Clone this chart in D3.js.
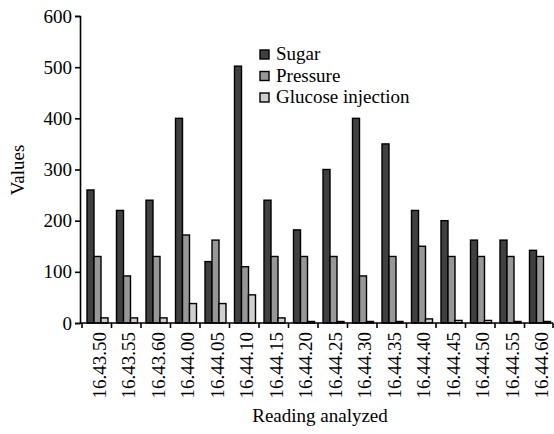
<!DOCTYPE html>
<html>
<head>
<meta charset="utf-8">
<script src="https://cdn.jsdelivr.net/npm/d3@7"></script>
<style>
  body { margin: 0; background: #fff; }
</style>
</head>
<body>
<script>
// data
const readings = ["16.43.50", "16.43.55", "16.43.60", "16.44.00", "16.44.05", "16.44.10",
    "16.44.15", "16.44.20", "16.44.25", "16.44.30", "16.44.35", "16.44.40",
    "16.44.45", "16.44.50", "16.44.55", "16.44.60"];
const sugar = [260, 220, 240, 400, 120, 502, 240, 182, 300, 400, 350, 220, 200, 162, 162, 142];
const pressure = [130, 92, 130, 172, 162, 110, 130, 130, 130, 92, 130, 150, 130, 130, 130, 130];
const glucose = [10, 10, 10, 38, 38, 55, 10, 3, 3, 3, 3, 8, 5, 5, 3, 3];
const seriesNames = ["Sugar", "Pressure", "Glucose injection"];
const yTicks = [0, 100, 200, 300, 400, 500, 600];

const width = 554;
const height = 434;
const font = "Liberation Serif";
const fs = 19;

const svg = d3.select("body")
    .append("svg")
    .attr("width", width)
    .attr("height", height)
    .attr("font-family", font);

const series = [sugar, pressure, glucose];
const colors = ["#404040", "#979797", "#cfcfcf"];

// scales: one band per reading, three bars grouped inside
const x = d3.scaleBand()
    .domain(readings)
    .range([82, 554]);

const x1 = d3.scaleBand()
    .domain(d3.range(3))
    .range([5, 26]);

const y = d3.scaleLinear()
    .domain([0, 600])
    .range([323, 16]);

// bars
series.forEach((vals, s) => {
    svg.append("g")
        .selectAll("rect")
        .data(vals)
        .enter()
        .append("rect")
        .attr("x", (d, i) => x(readings[i]) + x1(s))
        .attr("y", d => y(d))
        .attr("width", x1.bandwidth())
        .attr("height", d => y(0) - y(d))
        .attr("fill", colors[s])
        .attr("stroke", "#000")
        .attr("stroke-width", 1.4);
});

// Y axis
const yAxis = svg.append("g")
    .attr("transform", "translate(80,0)")
    .call(d3.axisLeft(y).tickValues(yTicks).tickSize(5).tickPadding(3));
yAxis.attr("font-family", font);
yAxis.select(".domain").attr("stroke-width", 1.6);
yAxis.selectAll(".tick line").attr("stroke-width", 1.6);
yAxis.selectAll("text")
    .attr("font-family", font)
    .attr("font-size", fs)
    .attr("fill", "#000");

// X axis, ticks sit between the reading groups
const xAxisG = svg.append("g")
    .attr("transform", "translate(0," + y(0) + ")");
xAxisG.append("line")
    .attr("x1", 80).attr("x2", 553)
    .attr("stroke", "#000").attr("stroke-width", 1.6);
xAxisG.selectAll(".btick")
    .data(readings.map(r => x(r)).concat([553]))
    .enter()
    .append("line")
    .attr("x1", d => d).attr("x2", d => d)
    .attr("y1", 0).attr("y2", 5)
    .attr("stroke", "#000").attr("stroke-width", 1.6);
xAxisG.selectAll(".xlab")
    .data(readings)
    .enter()
    .append("text")
    .attr("transform", d => `translate(${x(d) + 5 + 10.5 + 8},9) rotate(-90)`)
    .attr("text-anchor", "end")
    .attr("font-family", font)
    .attr("font-size", fs)
    .text(d => d);

// axis titles
svg.append("text")
    .attr("transform", "translate(24,170) rotate(-90)")
    .attr("text-anchor", "middle")
    .attr("font-family", font)
    .attr("font-size", fs)
    .text("Values");

svg.append("text")
    .attr("x", 320)
    .attr("y", 422)
    .attr("text-anchor", "middle")
    .attr("font-family", font)
    .attr("font-size", fs)
    .text("Reading analyzed");

// legend
const legend = svg.append("g");
seriesNames.forEach((name, i) => {
    legend.append("rect")
        .attr("x", 260)
        .attr("y", 50 + i * 21.5)
        .attr("width", 9)
        .attr("height", 9)
        .attr("fill", colors[i])
        .attr("stroke", "#000")
        .attr("stroke-width", 1.4);
    legend.append("text")
        .attr("x", 276)
        .attr("y", 60 + i * 21.5)
        .attr("font-family", font)
        .attr("font-size", fs)
        .text(name);
});
</script>
</body>
</html>
